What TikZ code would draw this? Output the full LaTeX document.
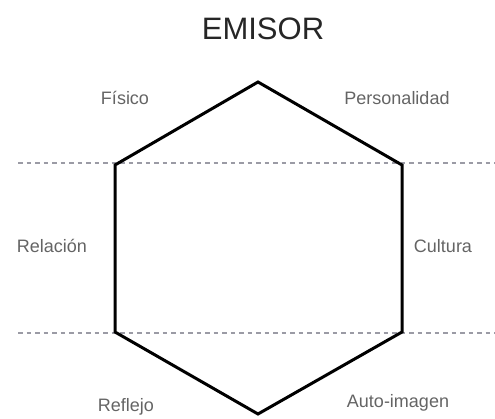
\documentclass[tikz,border=0pt]{standalone}
\usepackage{fontspec}
\setmainfont{Liberation Sans}
\usetikzlibrary{positioning}
\definecolor{labelgray}{RGB}{100,100,100}
\definecolor{dashgray}{RGB}{155,155,165}
\tikzset{
  facet/.style={
    text=labelgray,
    font=\fontsize{18}{20}\selectfont,
    inner sep=0pt
  },
  title/.style={
    text=black!85,
    font=\fontsize{31}{34}\selectfont,
    inner sep=0pt
  },
  guide/.style={dashgray, dash pattern=on 4.5pt off 4pt, line width=1.3pt},
  edge/.style={black, line width=3pt, line join=miter}
}
\begin{document}
\begin{tikzpicture}[x=1pt, y=-1pt]
  \useasboundingbox (0,0) rectangle (495,419);
  % vertices of the prism
  \coordinate (top) at (258,82);
  \coordinate (ur) at (402,165);
  \coordinate (lr) at (402,332);
  \coordinate (bot) at (258,414);
  \coordinate (ll) at (115,332);
  \coordinate (ul) at (115,165);
  % guide lines
  \coordinate (g1a) at (18,163);
  \coordinate (g1b) at (495,163);
  \coordinate (g2a) at (18,333);
  \coordinate (g2b) at (495,333);
  \draw[guide] (g1a) -- (g1b);
  \draw[guide] (g2a) -- (g2b);
  % hexagon
  \draw[edge] (top) -- (ur) -- (lr) -- (bot) -- (ll) -- (ul) -- cycle;
  % labels
  \node[title] (emisor) at (263,29) {EMISOR};
  \node[facet] (fisico) at (125,98) {Físico};
  \node[facet] (perso) at (397,98) {Personalidad};
  \node[facet] (relacion) at (52,246) {Relación};
  \node[facet] (cultura) at (443,246) {Cultura};
  \node[facet] (reflejo) at (126,407) {Reflejo};
  \node[facet] (auto) at (398,403) {Auto-imagen};
\end{tikzpicture}
\end{document}
